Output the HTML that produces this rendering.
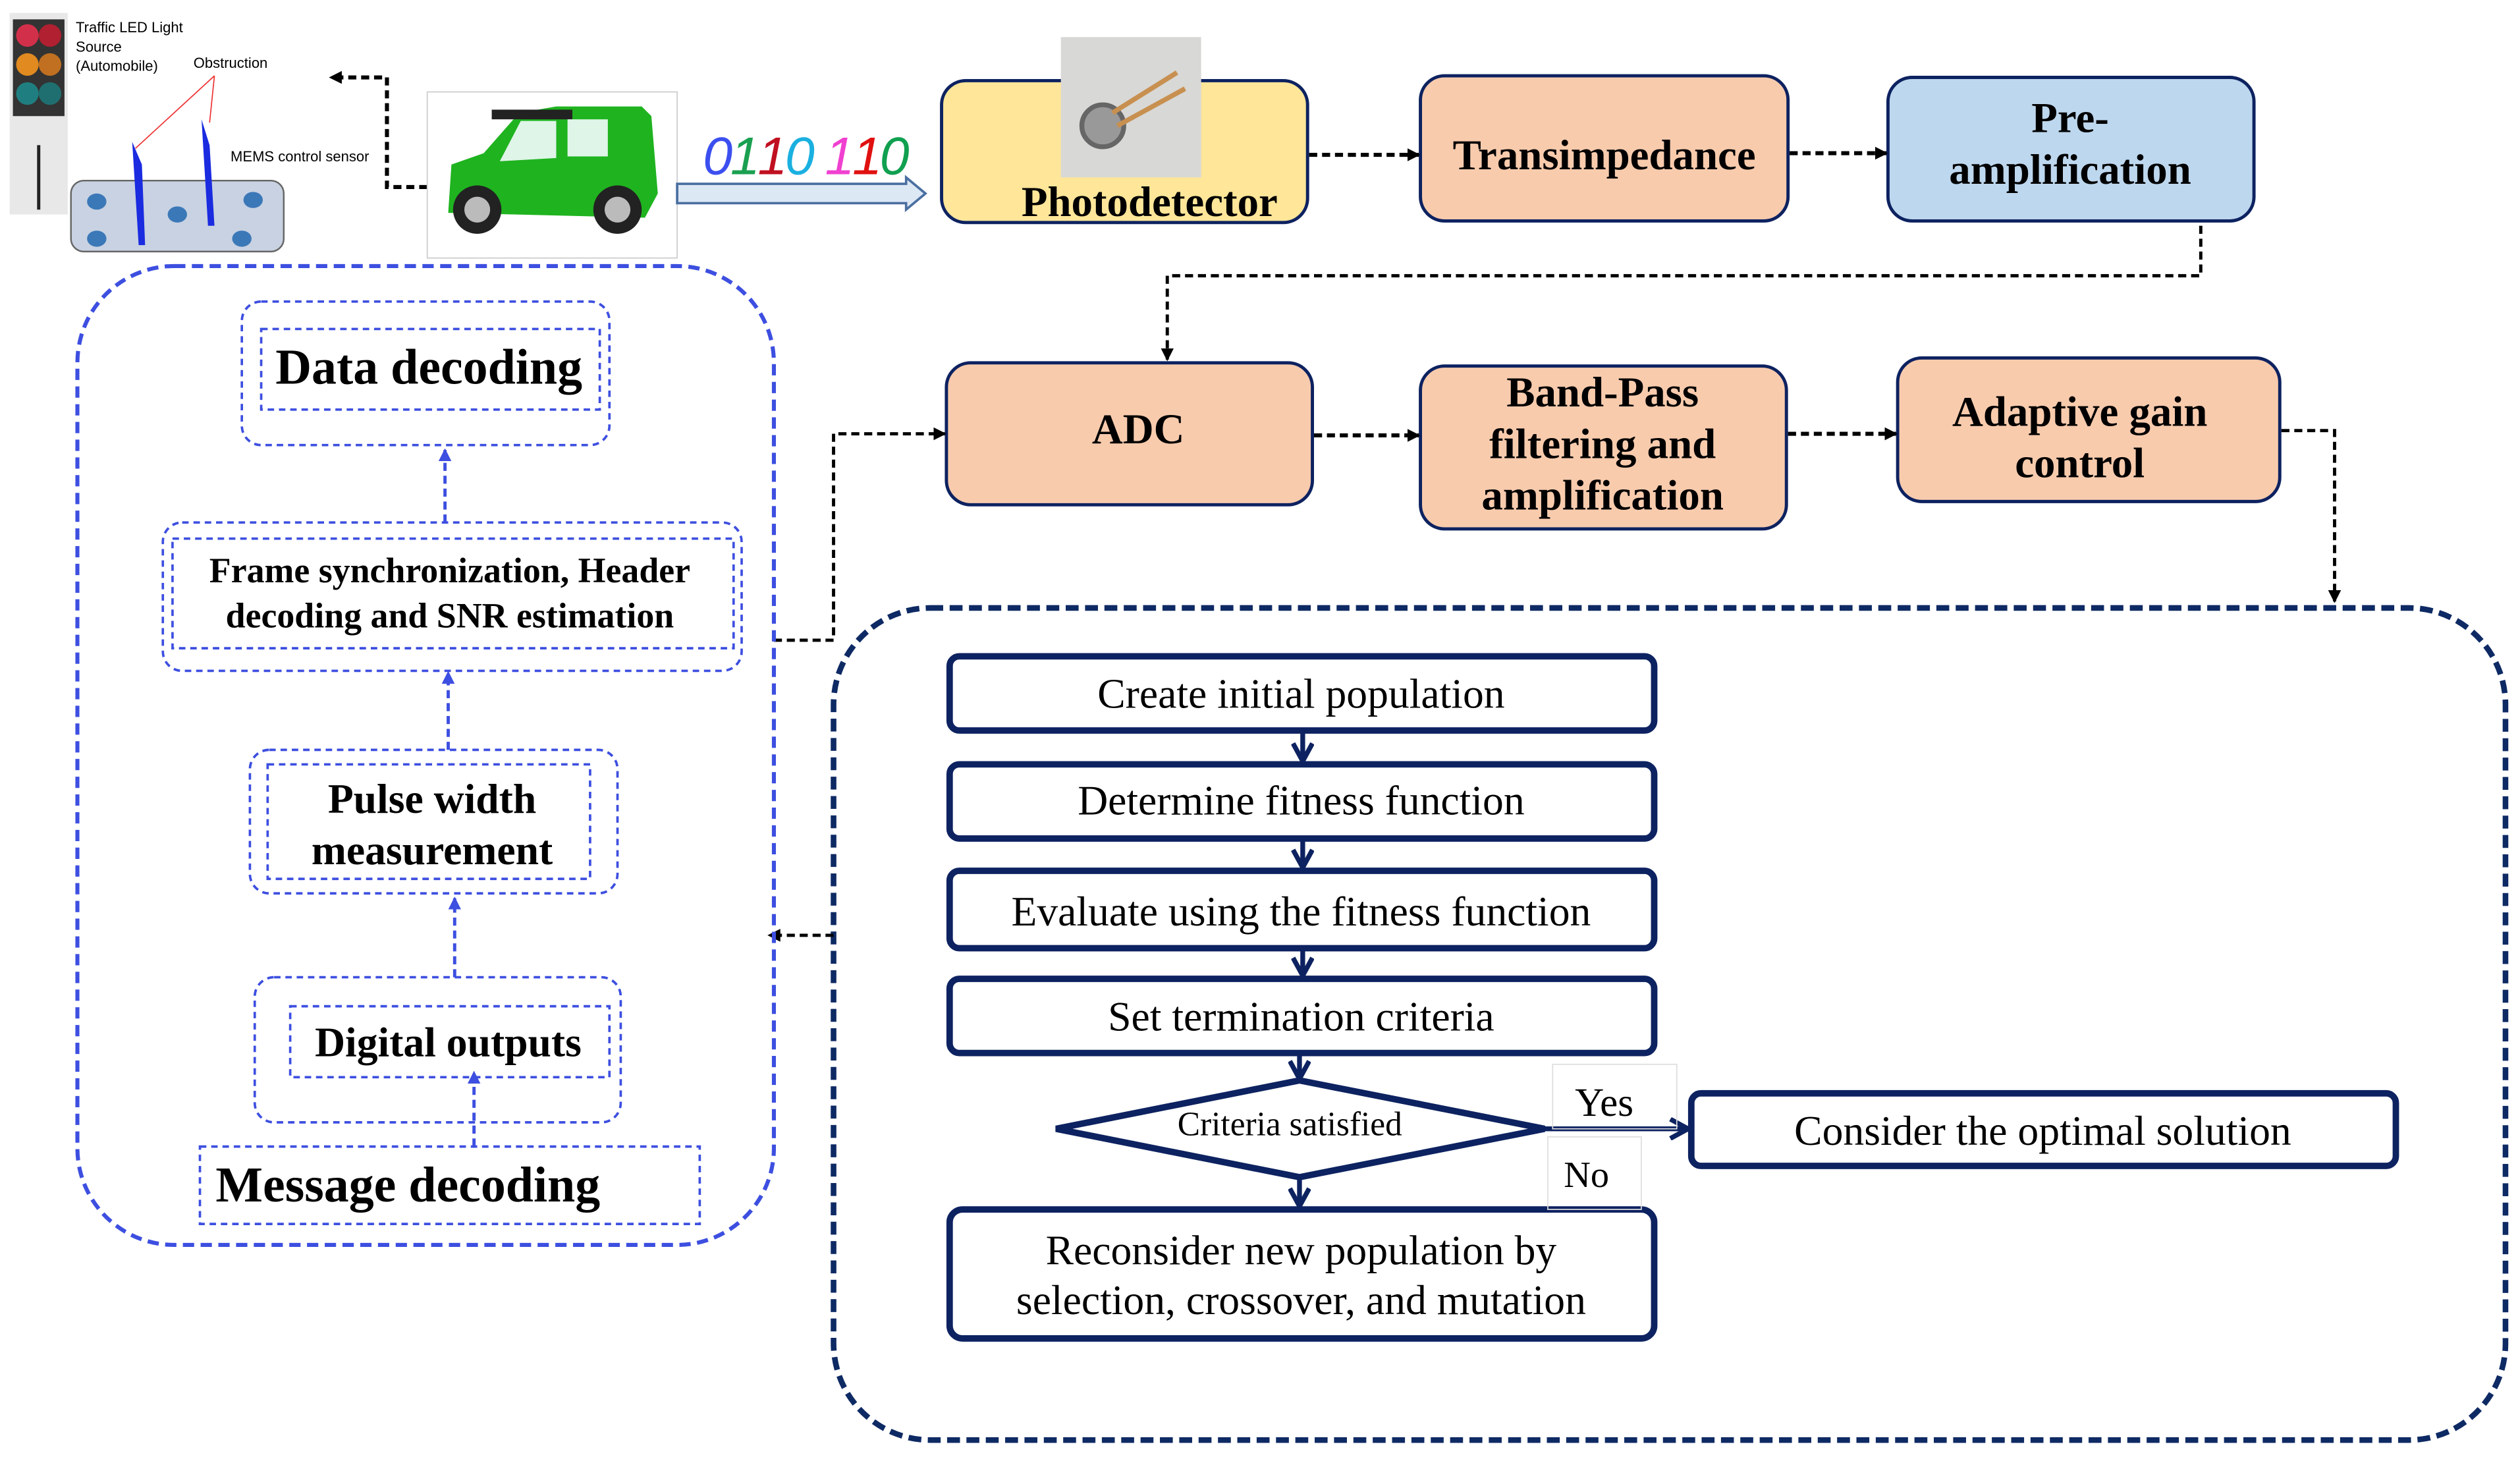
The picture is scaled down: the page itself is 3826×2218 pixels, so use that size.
<!DOCTYPE html>
<html><head><meta charset="utf-8"><style>
html,body{margin:0;padding:0;background:#fff;}
svg{display:block;}
text{font-family:"Liberation Serif",serif;}
.b{font-weight:bold;}
</style></head><body>
<svg width="3826" height="2218" viewBox="0 0 1563 906" preserveAspectRatio="none" xmlns="http://www.w3.org/2000/svg">
<defs>
<marker id="ab" markerWidth="8" markerHeight="8" refX="7" refY="4" orient="auto" markerUnits="userSpaceOnUse"><path d="M0,0 L8,4 L0,8 z" fill="#000"/></marker>
<marker id="abl" markerWidth="8" markerHeight="8" refX="7" refY="4" orient="auto" markerUnits="userSpaceOnUse"><path d="M0,0 L8,4 L0,8 z" fill="#3d4fe0"/></marker>
<marker id="an" markerWidth="14" markerHeight="14" refX="12" refY="7" orient="auto" markerUnits="userSpaceOnUse"><path d="M1,1 L12,7 L1,13" fill="none" stroke="#0d2260" stroke-width="3"/></marker>
</defs>

<!-- traffic light & MEMS -->
<rect x="6" y="8" width="36" height="125" fill="#e8e8e8"/>
<rect x="8" y="12" width="32" height="60" fill="#333"/>
<circle cx="17" cy="22" r="7" fill="#d2304a"/><circle cx="31" cy="22" r="7" fill="#b02030"/>
<circle cx="17" cy="40" r="7" fill="#e08a20"/><circle cx="31" cy="40" r="7" fill="#c07020"/>
<circle cx="17" cy="58" r="7" fill="#1f7f80"/><circle cx="31" cy="58" r="7" fill="#1f6f70"/>
<rect x="23" y="90" width="2" height="40" fill="#222"/>
<text x="47" y="20" font-size="9" style="font-family:'Liberation Sans',sans-serif">Traffic LED Light</text>
<text x="47" y="32" font-size="9" style="font-family:'Liberation Sans',sans-serif">Source</text>
<text x="47" y="44" font-size="9" style="font-family:'Liberation Sans',sans-serif">(Automobile)</text>
<text x="120" y="42" font-size="9" style="font-family:'Liberation Sans',sans-serif">Obstruction</text>
<text x="143" y="100" font-size="9" style="font-family:'Liberation Sans',sans-serif">MEMS control sensor</text>
<line x1="133" y1="47" x2="84" y2="92" stroke="#e33" stroke-width="0.7"/>
<line x1="133" y1="47" x2="130" y2="76" stroke="#e33" stroke-width="0.7"/>
<rect x="44" y="112" width="132" height="44" rx="8" fill="#c8d2e2" stroke="#666"/>
<polygon points="82,88 88,102 90,152 86,152" fill="#1a2be0"/>
<polygon points="125,74 130,90 133,140 129,140" fill="#1a2be0"/>
<g fill="#3b78b8"><ellipse cx="60" cy="125" rx="6" ry="5"/><ellipse cx="60" cy="148" rx="6" ry="5"/><ellipse cx="110" cy="133" rx="6" ry="5"/><ellipse cx="157" cy="124" rx="6" ry="5"/><ellipse cx="150" cy="148" rx="6" ry="5"/></g>
<polyline points="265,116 240,116 240,48 205,48" fill="none" stroke="#000" stroke-width="2.5" stroke-dasharray="5,3" marker-end="url(#ab)"/>

<!-- car -->
<rect x="265" y="57" width="155" height="103" fill="#fff" stroke="#ccc" stroke-width="0.7"/>
<path d="M278,132 L280,102 L300,95 L322,70 L345,66 L398,66 L404,72 L408,120 L400,135 Z" fill="#1fb31f"/>
<rect x="305" y="68" width="50" height="6" fill="#222"/>
<path d="M323,75 L345,75 L345,98 L310,100 Z" fill="#dff5e8"/>
<rect x="352" y="74" width="25" height="23" fill="#dff5e8"/>
<circle cx="296" cy="130" r="15" fill="#222"/><circle cx="296" cy="130" r="8" fill="#bbb"/>
<circle cx="383" cy="130" r="15" fill="#222"/><circle cx="383" cy="130" r="8" fill="#bbb"/>

<!-- bits + arrow -->
<text x="436" y="108" font-size="33" font-style="italic" style="font-family:'Liberation Sans',sans-serif" textLength="128"><tspan fill="#3b4ff0">0</tspan><tspan fill="#1aa050">1</tspan><tspan fill="#c01020">1</tspan><tspan fill="#1ab0e0">0</tspan><tspan> </tspan><tspan fill="#f040d0">1</tspan><tspan fill="#e01010">1</tspan><tspan fill="#10a050">0</tspan></text>
<path d="M420,114 L562,114 L562,110 L574,120 L562,130 L562,126 L420,126 Z" fill="#dde8f5" stroke="#4a6fa0" stroke-width="1.5"/>

<!-- top row -->
<rect x="584" y="50" width="227" height="88" rx="15" fill="#ffe699" stroke="#0d2260" stroke-width="2"/>
<rect x="658" y="23" width="87" height="87" fill="#d8d8d6"/>
<circle cx="684" cy="78" r="13" fill="#999" stroke="#666" stroke-width="3"/><line x1="690" y1="70" x2="730" y2="45" stroke="#c89050" stroke-width="3"/><line x1="693" y1="78" x2="735" y2="55" stroke="#c89050" stroke-width="3"/>
<text x="713" y="134" font-size="26.5" class="b" text-anchor="middle">Photodetector</text>
<rect x="881" y="47" width="228" height="90" rx="15" fill="#f8cbad" stroke="#0d2260" stroke-width="2"/>
<text x="995" y="105" font-size="26.5" class="b" text-anchor="middle">Transimpedance</text>
<rect x="1171" y="48" width="227" height="89" rx="15" fill="#bdd7ee" stroke="#0d2260" stroke-width="2"/>
<text x="1284" y="82" font-size="26.5" class="b" text-anchor="middle">Pre-</text>
<text x="1284" y="114" font-size="26.5" class="b" text-anchor="middle">amplification</text>
<line x1="812" y1="96" x2="880" y2="96" stroke="#000" stroke-width="2.5" stroke-dasharray="5,3" marker-end="url(#ab)"/>
<line x1="1110" y1="95" x2="1170" y2="95" stroke="#000" stroke-width="2.5" stroke-dasharray="5,3" marker-end="url(#ab)"/>
<polyline points="1365,140 1365,171 724,171 724,223" fill="none" stroke="#000" stroke-width="2" stroke-dasharray="5,3" marker-end="url(#ab)"/>

<!-- second row -->
<rect x="587" y="225" width="227" height="88" rx="15" fill="#f8cbad" stroke="#0d2260" stroke-width="2"/>
<text x="706" y="275" font-size="26.5" class="b" text-anchor="middle">ADC</text>
<rect x="881" y="227" width="227" height="101" rx="15" fill="#f8cbad" stroke="#0d2260" stroke-width="2"/>
<text x="994" y="252" font-size="26.5" class="b" text-anchor="middle">Band-Pass</text>
<text x="994" y="284" font-size="26.5" class="b" text-anchor="middle">filtering and</text>
<text x="994" y="316" font-size="26.5" class="b" text-anchor="middle">amplification</text>
<rect x="1177" y="222" width="237" height="89" rx="15" fill="#f8cbad" stroke="#0d2260" stroke-width="2"/>
<text x="1290" y="264" font-size="26.5" class="b" text-anchor="middle">Adaptive gain</text>
<text x="1290" y="296" font-size="26.5" class="b" text-anchor="middle">control</text>
<line x1="815" y1="270" x2="880" y2="270" stroke="#000" stroke-width="2.5" stroke-dasharray="5,3" marker-end="url(#ab)"/>
<line x1="1109" y1="269" x2="1176" y2="269" stroke="#000" stroke-width="2.5" stroke-dasharray="5,3" marker-end="url(#ab)"/>
<polyline points="1415,267 1448,267 1448,373" fill="none" stroke="#000" stroke-width="2" stroke-dasharray="5,3" marker-end="url(#ab)"/>

<!-- big GA box -->
<rect x="517" y="377" width="1037" height="516" rx="60" fill="none" stroke="#0e2a64" stroke-width="3.5" stroke-dasharray="8,4"/>
<polyline points="480,397 517,397 517,269 586,269" fill="none" stroke="#000" stroke-width="2" stroke-dasharray="5,3" marker-end="url(#ab)"/>
<line x1="517" y1="580" x2="477" y2="580" stroke="#000" stroke-width="2" stroke-dasharray="5,3" marker-end="url(#ab)"/>

<!-- left receiver box -->
<rect x="48" y="165" width="432" height="607" rx="60" fill="none" stroke="#3d4fe0" stroke-width="2.5" stroke-dasharray="7,4"/>
<g fill="none" stroke="#3d4fe0" stroke-width="1.5" stroke-dasharray="4,3">
<rect x="150" y="187" width="228" height="89" rx="12"/><rect x="162" y="204" width="210" height="50"/>
<rect x="101" y="324" width="359" height="92" rx="12"/><rect x="107" y="334" width="348" height="68"/>
<rect x="155" y="465" width="228" height="89" rx="12"/><rect x="166" y="474" width="200" height="71"/>
<rect x="158" y="606" width="227" height="90" rx="12"/><rect x="180" y="624" width="198" height="44"/>
<rect x="124" y="711" width="310" height="48"/>
</g>
<g stroke="#3d4fe0" stroke-width="2" stroke-dasharray="5,3">
<line x1="276" y1="324" x2="276" y2="279" marker-end="url(#abl)"/>
<line x1="278" y1="465" x2="278" y2="417" marker-end="url(#abl)"/>
<line x1="282" y1="606" x2="282" y2="557" marker-end="url(#abl)"/>
<line x1="294" y1="711" x2="294" y2="665" marker-end="url(#abl)"/>
</g>
<text x="266" y="238" font-size="31" class="b" text-anchor="middle">Data decoding</text>
<text x="279" y="361" font-size="22" class="b" text-anchor="middle">Frame synchronization, Header</text>
<text x="279" y="389" font-size="22" class="b" text-anchor="middle">decoding and SNR estimation</text>
<text x="268" y="504" font-size="26" class="b" text-anchor="middle">Pulse width</text>
<text x="268" y="536" font-size="26" class="b" text-anchor="middle">measurement</text>
<text x="278" y="655" font-size="26" class="b" text-anchor="middle">Digital outputs</text>
<text x="253" y="745" font-size="31" class="b" text-anchor="middle">Message decoding</text>

<!-- flowchart -->
<g fill="#fff" stroke="#0d2260" stroke-width="4">
<rect x="589" y="407" width="437" height="46" rx="6"/>
<rect x="589" y="474" width="437" height="46" rx="6"/>
<rect x="589" y="540" width="437" height="48" rx="6"/>
<rect x="589" y="607" width="437" height="46" rx="6"/>
<rect x="1049" y="678" width="437" height="45" rx="6"/>
<rect x="589" y="750" width="437" height="80" rx="8"/>
<polygon points="655,700 806,670 958,700 806,730"/>
</g>
<g stroke="#0d2260" stroke-width="3" fill="none">
<line x1="808" y1="453" x2="808" y2="472" marker-end="url(#an)"/>
<line x1="808" y1="520" x2="808" y2="538" marker-end="url(#an)"/>
<line x1="808" y1="588" x2="808" y2="605" marker-end="url(#an)"/>
<line x1="806" y1="653" x2="806" y2="669" marker-end="url(#an)"/>
<line x1="806" y1="730" x2="806" y2="748" marker-end="url(#an)"/>
<line x1="958" y1="700" x2="1047" y2="700" marker-end="url(#an)"/>
</g>
<rect x="963" y="660" width="77" height="40" fill="none" stroke="#ddd" stroke-width="0.7"/>
<rect x="960" y="705" width="58" height="45" fill="none" stroke="#ddd" stroke-width="0.7"/>
<text x="807" y="439" font-size="26" text-anchor="middle">Create initial population</text>
<text x="807" y="505" font-size="26" text-anchor="middle">Determine fitness function</text>
<text x="807" y="574" font-size="26" text-anchor="middle">Evaluate using the fitness function</text>
<text x="807" y="639" font-size="26" text-anchor="middle">Set termination criteria</text>
<text x="800" y="704" font-size="21" text-anchor="middle">Criteria satisfied</text>
<text x="995" y="692" font-size="25" text-anchor="middle">Yes</text>
<text x="984" y="736" font-size="23" text-anchor="middle">No</text>
<text x="1267" y="710" font-size="26" text-anchor="middle">Consider the optimal solution</text>
<text x="807" y="784" font-size="26" text-anchor="middle">Reconsider new population by</text>
<text x="807" y="815" font-size="26" text-anchor="middle">selection, crossover, and mutation</text>
</svg>
</body></html>
